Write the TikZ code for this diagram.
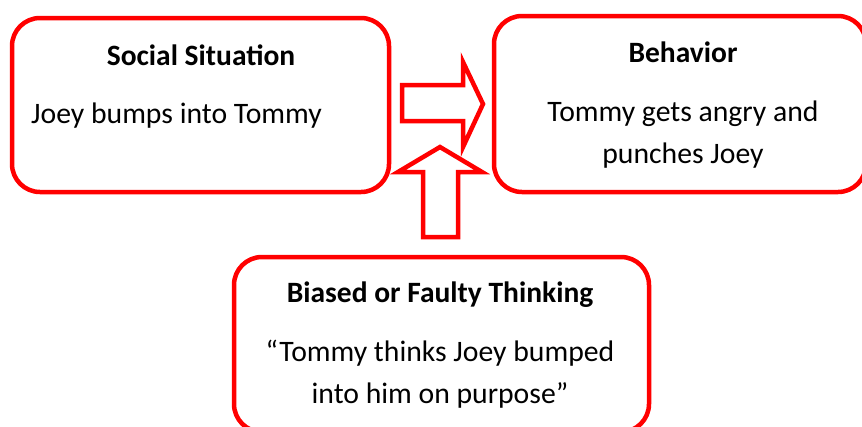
\documentclass[tikz,border=0pt]{standalone}
\usepackage{fontspec}
\setmainfont{Carlito}
\begin{document}
\begin{tikzpicture}[x=1pt,y=-1pt,
  box/.style={draw=red, line width=4.5pt, rounded corners=28pt, rectangle, inner sep=0pt, outer sep=0pt},
  blockarrow/.style={draw=red, line width=4.5pt, fill=white, line join=miter},
  headtext/.style={font=\fontsize{29.5}{35}\selectfont\bfseries, anchor=base, inner sep=0pt},
  bodytext/.style={font=\fontsize{29.7}{35}\selectfont, anchor=base, inner sep=0pt}]
\useasboundingbox (0,0) rectangle (862,426);
\begin{scope}
\clip (0,0) rectangle (862,426);
% boxes
\node[box, minimum width=377pt, minimum height=174pt] (sit) at (200.5,105) {};
\node[box, minimum width=372pt, minimum height=176pt] (beh) at (680,104) {};
\node[box, minimum width=415pt, minimum height=175pt] (think) at (441.5,344.5) {};
\end{scope}
% block arrows
\draw[blockarrow] (402,85) -- (463,85) -- (463,62) -- (483,104) -- (463,147) -- (463,121) -- (402,121) -- cycle;
\draw[blockarrow] (440,147) -- (482,172) -- (458,172) -- (458,237) -- (423,237) -- (423,172) -- (398,172) -- cycle;
% texts
\node[headtext] (sitH) at (201,65) {Social Situation};
\node[bodytext, anchor=base west] (sitB) at (31,123) {Joey bumps into Tommy};
\node[headtext] (behH) at (683,62) {Behavior};
\node[bodytext] (behB1) at (683,121) {Tommy gets angry and};
\node[bodytext] (behB2) at (683,163) {punches Joey};
\node[headtext] (thH) at (440,302) {Biased or Faulty Thinking};
\node[bodytext] (thB1) at (440,361) {“Tommy thinks Joey bumped};
\node[bodytext] (thB2) at (440,403) {into him on purpose”};
\end{tikzpicture}
\end{document}
